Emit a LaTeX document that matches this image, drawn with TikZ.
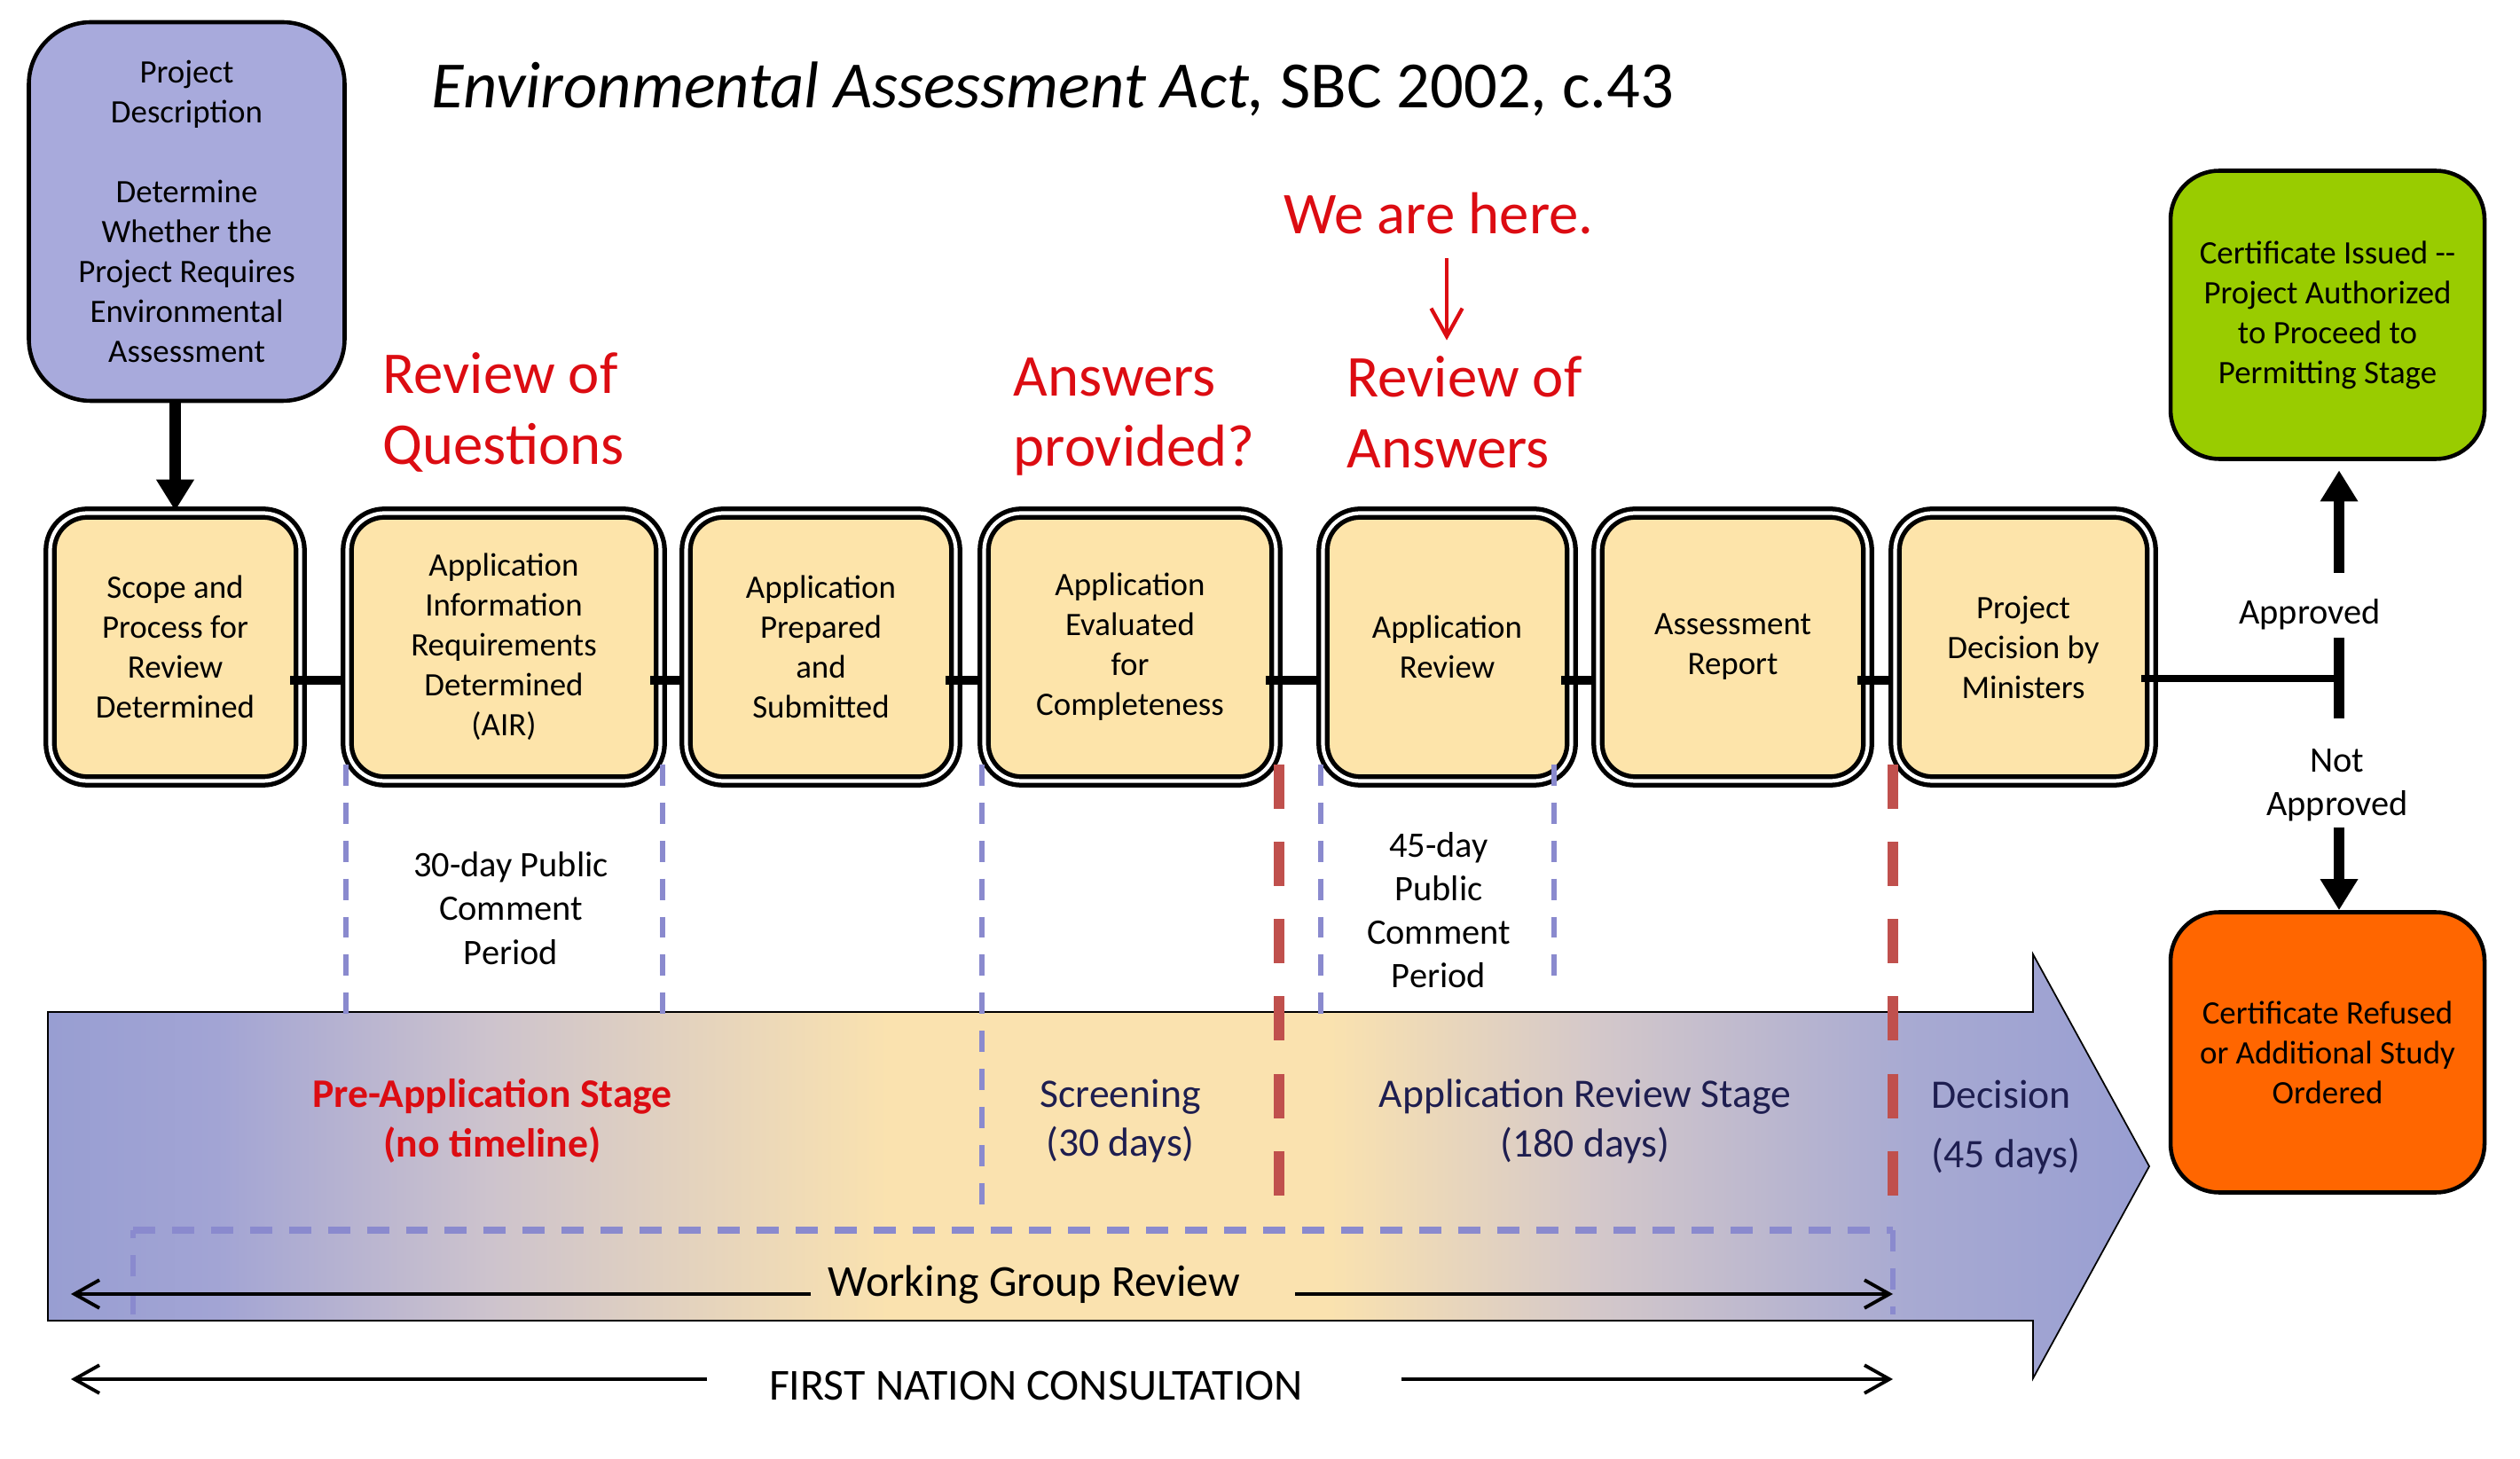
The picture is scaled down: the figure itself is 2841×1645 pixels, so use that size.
\documentclass[tikz,border=0pt]{standalone}
\usepackage{fontspec}
\setmainfont{Carlito}
\usetikzlibrary{arrows.meta}
\definecolor{boxfill}{RGB}{253,228,170}
\definecolor{pdfill}{RGB}{168,170,220}
\definecolor{okfill}{RGB}{153,204,0}
\definecolor{nofill}{RGB}{255,102,0}
\definecolor{hred}{RGB}{220,12,18}
\definecolor{navy}{RGB}{30,30,80}
\definecolor{lavline}{RGB}{138,138,206}
\definecolor{redline}{RGB}{192,80,77}
\definecolor{bandA}{RGB}{152,158,210}
\definecolor{bandB}{RGB}{162,164,212}
\definecolor{bandC}{RGB}{205,195,205}
\definecolor{bandD}{RGB}{250,226,175}
\definecolor{bandE}{RGB}{212,200,202}
\definecolor{bandF}{RGB}{168,170,210}
\pgfdeclarehorizontalshading{bandshade}{100bp}{color(0bp)=(bandA); color(25bp)=(bandA); color(29bp)=(bandB); color(35.5bp)=(bandC); color(45bp)=(bandD); color(55.5bp)=(bandD); color(61.8bp)=(bandE); color(69.2bp)=(bandF); color(75bp)=(bandA); color(100bp)=(bandA)}
\newcommand{\stagebox}[4]{\node[stagebox,minimum width=#3cm] (#1) at (#2,729.5) {#4};}

\begin{document}
\begin{tikzpicture}[x=0.1mm,y=-0.1mm,
  stagebox/.style={draw,double=white,double distance=1.2pt,line width=1.5pt,rounded corners=0.42cm,fill=boxfill,minimum height=3.02cm,align=center,inner sep=1pt,font=\fontsize{10.5}{12.8}\selectfont},
  endbox/.style={draw,line width=1.3pt,rounded corners=0.55cm,align=center,font=\fontsize{10.5}{12.8}\selectfont},
  heading/.style={text=hred,align=left,anchor=west,inner sep=0pt,font=\fontsize{19}{22.7}\selectfont},
  stage/.style={text=navy,align=center,font=\fontsize{13}{15.9}\selectfont},
  note/.style={align=center,font=\fontsize{11.5}{14}\selectfont},
  fat/.style={line width=3.6pt,-{Triangle[width=11.5pt,length=10pt]}},
  linkbar/.style={line width=3pt,shorten <=-4pt},
  lavdash/.style={lavline,line width=1.6pt,dash pattern=on 6.8pt off 5.4pt},
  reddash/.style={redline,line width=3.6pt,dash pattern=on 14.2pt off 10.6pt},
  spanline/.style={line width=1.1pt,-{Straight Barb[length=8pt,width=9pt]}}]
\fill[white] (0,0) rectangle (2841,1645);
\useasboundingbox (0,0) rectangle (2841,1645);

% big stage arrow
\shadedraw[shading=bandshade,draw=black,line width=0.5pt] (54,1141) -- (2292,1141) -- (2292,1076) -- (2423,1315) -- (2292,1554) -- (2292,1489) -- (54,1489) -- cycle;

\node[font=\fontsize{21.2}{25}\selectfont] (title) at (1187,100) {\textit{Environmental Assessment Act,} SBC 2002, c.43};

\node[draw,line width=1.3pt,rounded corners=0.7cm,fill=pdfill,minimum width=3.56cm,minimum height=4.27cm,align=center,font=\fontsize{10.5}{12.8}\selectfont] (pd) at (210.5,238.5) {Project\\Description\\[12.8pt]Determine\\Whether the\\Project Requires\\Environmental\\Assessment};

% process steps
\stagebox{b1}{197.5}{2.82}{Scope and\\Process for\\Review\\Determined}
\stagebox{b2}{568}{3.53}{Application\\Information\\Requirements\\Determined\\(AIR)}
\stagebox{b3}{925.5}{3.04}{Application\\Prepared\\and\\Submitted}
\stagebox{b4}{1274}{3.29}{Application\\Evaluated\\for\\Completeness}
\stagebox{b5}{1631.5}{2.80}{Application\\Review}
\stagebox{b6}{1953.5}{3.04}{Assessment\\Report}
\stagebox{b7}{2281}{2.89}{Project\\Decision by\\Ministers}

\draw[fat] (b1.north |- pd.south) -- (b1.north);
\coordinate (barline) at (0,767);
\foreach \a/\b in {b1/b2,b2/b3,b3/b4,b4/b5,b5/b6,b6/b7}
  \draw[linkbar] (\a.east |- barline) -- (\b.west |- barline);

% decision
\node[endbox,fill=okfill,minimum width=3.54cm,minimum height=3.25cm] (ok) at (2624,355) {Certificate Issued -{}-\\Project Authorized\\to Proceed to\\Permitting Stage};
\node[endbox,fill=nofill,minimum width=3.54cm,minimum height=3.16cm] (no) at (2624,1186.5) {Certificate Refused\\or Additional Study\\Ordered};
\coordinate (tee) at (2637,765);
\coordinate (upfoot) at (2637,646);
\coordinate (dnfoot) at (2637,933);
\draw[line width=2.2pt,shorten <=-4pt] (b7.east |- tee) -- (tee);
\draw[line width=3.4pt] ([yshift=13pt]tee) -- ([yshift=-12.8pt]tee);
\draw[fat,shorten >=3pt] (upfoot) -- (upfoot |- ok.south);
\draw[fat] (dnfoot) -- (dnfoot |- no.north);
\node[note] (appr) at (2604,693) {Approved};
\node[note] (nappr) at (2635,885) {Not\\Approved};

% red remarks
\node[heading] (rq) at (431,465) {Review of\\Questions};
\node[heading] (ap) at (1142,470) {Answers\\provided?};
\node[heading] (ra) at (1518,465) {Review of\\Answers};
\node[text=hred,font=\fontsize{19}{22.7}\selectfont] (here) at (1622,241) {We are here.};
\coordinate (herex) at (1631,0);
\draw[hred,line width=1.2pt,shorten <=4pt,shorten >=5pt,-{Straight Barb[length=9pt,width=10pt]}] (here.south -| herex) -- (ra.north -| herex);

% comment periods and stage limits
\foreach \x/\ya/\yb in {390/862/1148,747/862/1148,1107/862/1367,1489/862/1152,1752/862/1118}
  \draw[lavdash] (\x,\ya) -- (\x,\yb);
\foreach \x in {1442,2134}
  \draw[reddash] (\x,862) -- (\x,1352);
\draw[lavdash] (150,1482) -- (150,1387);
\draw[lavline,line width=2pt,dash pattern=on 7.1pt off 5.4pt] (150,1387) -- (2134,1387);
\draw[lavdash] (2134,1387) -- (2134,1482);

\node[note] (c30) at (576,1024) {30-day Public\\Comment\\Period};
\node[note] (c45) at (1622,1026) {45-day\\Public\\Comment\\Period};

\node[stage,text=hred,font=\bfseries\fontsize{13}{15.9}\selectfont] (pre) at (555,1264) {Pre-Application Stage\\(no timeline)};
\node[stage] (scr) at (1263,1264) {Screening\\(30 days)};
\node[stage] (ars) at (1787,1264) {Application Review Stage\\(180 days)};
\node[stage,align=left,anchor=west,inner sep=0pt] (dec) at (2177,1271) {Decision\\[3pt](45 days)};

% spans
\node[font=\fontsize{14.2}{17}\selectfont] (wg) at (1166,1448) {Working Group Review};
\coordinate (wgL) at (80,1459);
\coordinate (wgR) at (2134,1459);
\draw[spanline,shorten <=2pt] (wg.west |- wgL) -- (wgL);
\draw[spanline,shorten <=14pt] (wg.east |- wgR) -- (wgR);
\node[font=\fontsize{14.2}{17}\selectfont] (fn) at (1168,1562) {FIRST NATION CONSULTATION};
\coordinate (fnL) at (80,1555);
\coordinate (fnR) at (2134,1555);
\draw[spanline,shorten <=16.5pt] (fn.west |- fnL) -- (fnL);
\draw[spanline,shorten <=28pt] (fn.east |- fnR) -- (fnR);
\end{tikzpicture}
\end{document}
